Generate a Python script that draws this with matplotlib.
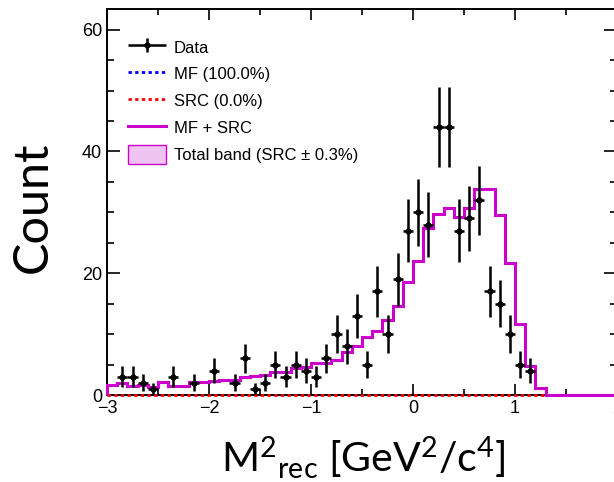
"""Missing-mass-squared histogram: data points against the MF / SRC template
fit, drawn in the ROOT look (inward ticks on all four sides, step lines)."""

import matplotlib
import numpy as np

matplotlib.use("Agg")
import matplotlib.pyplot as plt  # noqa: E402
from matplotlib.legend_handler import HandlerErrorbar  # noqa: E402
from matplotlib.lines import Line2D  # noqa: E402
from matplotlib.patches import Patch  # noqa: E402
from matplotlib.ticker import MultipleLocator  # noqa: E402

# binning of M2rec, GeV^2/c^4
X_MIN, X_MAX, N_BINS = -3.0, 2.0, 50

# counts per bin, left to right
data_counts = [
    0, 3, 3, 2, 1, 0, 3, 0, 2, 0,
    4, 0, 2, 6, 1, 2, 5, 3, 5, 4,
    3, 6, 10, 8, 13, 5, 17, 10, 19, 27,
    30, 28, 44, 44, 27, 29, 32, 17, 15, 10,
    5, 4, 0, 0, 0, 0, 0, 0, 0, 0,
]

# fitted templates (MF carries 100% of the yield, SRC 0%)
mf_counts = [
    1.6, 1.9, 1.4, 1.6, 1.3, 2.2, 1.4, 1.4, 2.2, 2.2,
    2.3, 2.5, 2.5, 2.9, 3.1, 3.3, 3.7, 3.8, 4.4, 4.6,
    5.2, 5.3, 5.7, 7.0, 8.0, 9.6, 10.5, 12.3, 14.7, 18.6,
    22.0, 27.4, 29.8, 30.7, 29.2, 30.7, 33.9, 33.9, 29.6, 21.7,
    11.6, 4.8, 1.1, 0, 0, 0, 0, 0, 0, 0,
]
src_counts = [0.0] * N_BINS
src_band = 0.003  # SRC fraction uncertainty for the total band

labels = ["Data", "MF (100.0%)", "SRC (0.0%)", "MF + SRC",
          "Total band (SRC \u00b1 0.3%)"]

MAGENTA = "#cc00cc"
BAND = "#f0c4f0"
TICK_FONT = "Liberation Sans"
TITLE_FONT = "Lato"


def style_axes(ax):
    """ROOT-like frame: inward ticks on every side, minor ticks between."""
    ax.set_xlim(X_MIN, X_MAX)
    ax.set_ylim(0, 63.4)
    ax.xaxis.set_major_locator(MultipleLocator(1))
    ax.xaxis.set_minor_locator(MultipleLocator(0.5))
    ax.yaxis.set_major_locator(MultipleLocator(20))
    ax.yaxis.set_minor_locator(MultipleLocator(5))
    ax.tick_params(axis="both", which="both", direction="in",
                   top=True, right=True, width=1.2, colors="black",
                   labelsize=13, pad=3.5)
    ax.tick_params(axis="x", which="major", length=8)
    ax.tick_params(axis="x", which="minor", length=4)
    ax.tick_params(axis="y", which="major", length=9.5)
    ax.tick_params(axis="y", which="minor", length=4.7)
    for lab in ax.get_xticklabels() + ax.get_yticklabels():
        lab.set_fontfamily(TICK_FONT)
    for sp in ax.spines.values():
        sp.set_linewidth(1.4)


def main():
    plt.rcParams["mathtext.fontset"] = "custom"
    plt.rcParams["mathtext.rm"] = TITLE_FONT
    plt.rcParams["mathtext.it"] = TITLE_FONT + ":italic"

    edges = np.linspace(X_MIN, X_MAX, N_BINS + 1)
    centers = 0.5 * (edges[:-1] + edges[1:])
    data = np.array(data_counts, dtype=float)
    mf = np.array(mf_counts)
    src = np.array(src_counts)
    total = mf + src

    fig = plt.figure(figsize=(6.14, 4.82), dpi=100)
    ax = fig.add_axes([107 / 614, 87 / 482, 510 / 614, 386 / 482])

    ax.stairs(mf, edges, baseline=0, color="blue", lw=2,
              ls=(0, (1.2, 1.2)), zorder=2)
    ax.stairs(src, edges, color="red", lw=2, ls=(0, (1.2, 1.2)),
              zorder=3, clip_on=False)
    ax.stairs(total * (1 + src_band), edges, baseline=total * (1 - src_band),
              fill=True, color=BAND, zorder=3.5)
    ax.stairs(total, edges, baseline=0, color=MAGENTA, lw=2.2,
              zorder=4, clip_on=False)

    shown = data > 0
    err = ax.errorbar(centers[shown], data[shown], yerr=np.sqrt(data[shown]),
                      xerr=0.05, fmt="o", ms=3.5, color="black",
                      elinewidth=1.8, capsize=0, zorder=5)

    style_axes(ax)

    handles = [
        err,
        Line2D([], [], color="blue", lw=2, ls=(0, (1.2, 1.2))),
        Line2D([], [], color="red", lw=2, ls=(0, (1.2, 1.2))),
        Line2D([], [], color=MAGENTA, lw=2.2),
        Patch(facecolor=BAND, edgecolor=MAGENTA, lw=1),
    ]
    ax.legend(handles, labels, loc="upper left",
              bbox_to_anchor=(128 / 614, 1 - 37.5 / 482),
              bbox_transform=fig.transFigure, frameon=False,
              borderpad=0, borderaxespad=0, handlelength=2.28,
              handleheight=1.38, handletextpad=0.48, labelspacing=0.47,
              prop={"family": TICK_FONT, "size": 12},
              handler_map={type(err): HandlerErrorbar(xerr_size=1.14,
                                                      yerr_size=0.42)})

    fig.text(33 / 614, 1 - 207 / 482, "Count", rotation=90,
             ha="center", va="center", family=TITLE_FONT, fontsize=35)
    fig.text(363 / 614, 1 - 472 / 482,
             "M$^2$$_{\\rm rec}$ [GeV$^2$/c$^4$]",
             ha="center", va="baseline", family=TITLE_FONT, fontsize=29.5)

    fig.savefig("out.png", dpi=100)
    plt.close(fig)


if __name__ == "__main__":
    main()
